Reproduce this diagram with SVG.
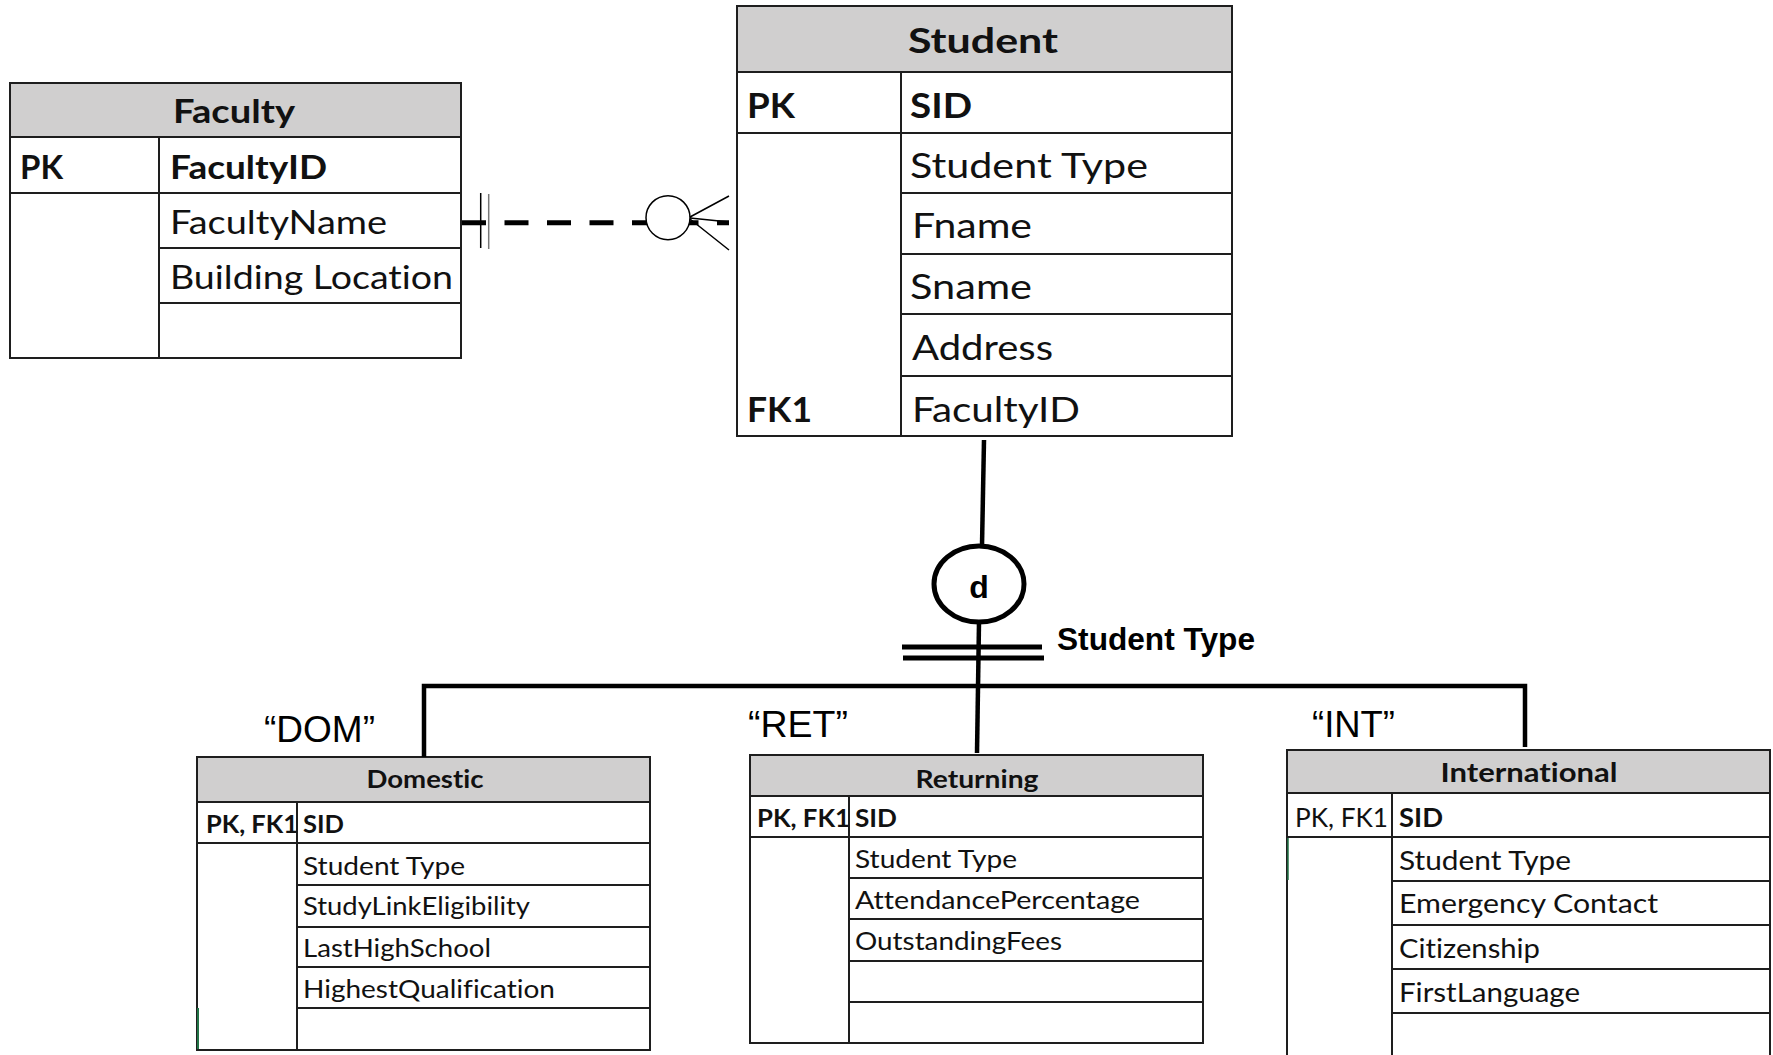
<svg xmlns="http://www.w3.org/2000/svg" width="1773" height="1055" viewBox="0 0 1773 1055">
  <style>
    .frame { fill: none; stroke: #1e1e1e; stroke-width: 2; }
    .head { fill: #d0cfcf; stroke: #1e1e1e; stroke-width: 2; }
    .grid { stroke: #1e1e1e; stroke-width: 2; fill: none; }
    .t { font-family: Lato, "Open Sans", sans-serif; fill: #111; font-variant-ligatures: none; }
    .b { font-weight: bold; }
    .big { font-size: 35px; }
    .mid { font-size: 33px; }
    .sm { font-size: 25px; }
    .smi { font-size: 26.5px; }
    .lbl { font-family: "Liberation Sans", Arial, sans-serif; fill: #000; }
    .rel { stroke: #000; stroke-width: 4.5; fill: none; }
    .thin { stroke: #000; stroke-width: 1.5; fill: none; }
  </style>

  <!-- Faculty table -->
  <g id="faculty">
    <rect class="head" x="10" y="83" width="451" height="54"/>
    <rect class="frame" x="10" y="83" width="451" height="275"/>
    <path class="grid" d="M10 193 H461 M159 248 H461 M159 303 H461 M159 137 V358"/>
    <text class="t b mid" x="234" y="123" text-anchor="middle" textLength="122" lengthAdjust="spacingAndGlyphs">Faculty</text>
    <text class="t b mid" x="20" y="179" textLength="43" lengthAdjust="spacingAndGlyphs">PK</text>
    <text class="t b mid" x="170" y="179" textLength="157" lengthAdjust="spacingAndGlyphs">FacultyID</text>
    <text class="t mid" x="170" y="234" textLength="217" lengthAdjust="spacingAndGlyphs">FacultyName</text>
    <text class="t mid" x="170" y="289" textLength="283" lengthAdjust="spacingAndGlyphs">Building Location</text>
  </g>

  <!-- Student table -->
  <g id="student">
    <rect class="head" x="737" y="6" width="495" height="66"/>
    <rect class="frame" x="737" y="6" width="495" height="430"/>
    <path class="grid" d="M737 133 H1232 M901 193 H1232 M901 254 H1232 M901 314 H1232 M901 376 H1232 M901 72 V436"/>
    <text class="t b big" x="983" y="53" text-anchor="middle" textLength="150" lengthAdjust="spacingAndGlyphs">Student</text>
    <text class="t b big" x="747" y="118" textLength="48" lengthAdjust="spacingAndGlyphs">PK</text>
    <text class="t b big" x="910" y="118" textLength="62" lengthAdjust="spacingAndGlyphs">SID</text>
    <text class="t big" x="910" y="178" textLength="238" lengthAdjust="spacingAndGlyphs">Student Type</text>
    <text class="t big" x="912" y="238" textLength="120" lengthAdjust="spacingAndGlyphs">Fname</text>
    <text class="t big" x="910" y="299" textLength="122" lengthAdjust="spacingAndGlyphs">Sname</text>
    <text class="t big" x="912" y="360" textLength="141" lengthAdjust="spacingAndGlyphs">Address</text>
    <text class="t b big" x="747" y="422" textLength="65" lengthAdjust="spacingAndGlyphs">FK1</text>
    <text class="t big" x="912" y="422" textLength="168" lengthAdjust="spacingAndGlyphs">FacultyID</text>
  </g>

  <!-- Domestic table -->
  <g id="domestic">
    <rect class="head" x="197" y="757" width="453" height="45"/>
    <rect class="frame" x="197" y="757" width="453" height="293"/>
    <path class="grid" d="M197 843 H650 M297 885 H650 M297 927 H650 M297 967 H650 M297 1008 H650 M297 802 V1050"/>
    <path d="M198 1008 V1049" stroke="#217346" stroke-width="2"/>
    <text class="t b sm" x="425" y="788" text-anchor="middle" textLength="117" lengthAdjust="spacingAndGlyphs">Domestic</text>
    <text class="t b sm" x="206" y="833" textLength="92" lengthAdjust="spacingAndGlyphs">PK, FK1</text>
    <text class="t b sm" x="303" y="833" textLength="41" lengthAdjust="spacingAndGlyphs">SID</text>
    <text class="t sm" x="303" y="875" textLength="162" lengthAdjust="spacingAndGlyphs">Student Type</text>
    <text class="t sm" x="303" y="915" textLength="227" lengthAdjust="spacingAndGlyphs">StudyLinkEligibility</text>
    <text class="t sm" x="303" y="957" textLength="188" lengthAdjust="spacingAndGlyphs">LastHighSchool</text>
    <text class="t sm" x="303" y="998" textLength="252" lengthAdjust="spacingAndGlyphs">HighestQualification</text>
  </g>

  <!-- Returning table -->
  <g id="returning">
    <rect class="head" x="750" y="755" width="453" height="41"/>
    <rect class="frame" x="750" y="755" width="453" height="288"/>
    <path class="grid" d="M750 837 H1203 M849 878 H1203 M849 919 H1203 M849 961 H1203 M849 1002 H1203 M849 796 V1043"/>
    <text class="t b sm" x="977" y="788" text-anchor="middle" textLength="123" lengthAdjust="spacingAndGlyphs">Returning</text>
    <text class="t b sm" x="757" y="827" textLength="93" lengthAdjust="spacingAndGlyphs">PK, FK1</text>
    <text class="t b sm" x="855" y="827" textLength="42" lengthAdjust="spacingAndGlyphs">SID</text>
    <text class="t sm" x="855" y="868" textLength="162" lengthAdjust="spacingAndGlyphs">Student Type</text>
    <text class="t sm" x="855" y="909" textLength="285" lengthAdjust="spacingAndGlyphs">AttendancePercentage</text>
    <text class="t sm" x="855" y="950" textLength="207" lengthAdjust="spacingAndGlyphs">OutstandingFees</text>
  </g>

  <!-- International table (runs past the bottom edge) -->
  <g id="international">
    <rect class="head" x="1287" y="750" width="483" height="43"/>
    <path class="grid" d="M1287 750 H1770 M1287 750 V1060 M1770 750 V1060 M1287 837 H1770 M1392 881 H1770 M1392 925 H1770 M1392 969 H1770 M1392 1013 H1770 M1392 793 V1060"/>
    <path d="M1288 838 V880" stroke="#217346" stroke-width="1.5"/>
    <text class="t b smi" x="1529" y="782" text-anchor="middle" textLength="177" lengthAdjust="spacingAndGlyphs">International</text>
    <text class="t smi" x="1295" y="827" textLength="93" lengthAdjust="spacingAndGlyphs">PK, FK1</text>
    <text class="t b smi" x="1399" y="827" textLength="44" lengthAdjust="spacingAndGlyphs">SID</text>
    <text class="t smi" x="1399" y="870" textLength="172" lengthAdjust="spacingAndGlyphs">Student Type</text>
    <text class="t smi" x="1399" y="913" textLength="259" lengthAdjust="spacingAndGlyphs">Emergency Contact</text>
    <text class="t smi" x="1399" y="958" textLength="141" lengthAdjust="spacingAndGlyphs">Citizenship</text>
    <text class="t smi" x="1399" y="1002" textLength="181" lengthAdjust="spacingAndGlyphs">FirstLanguage</text>
  </g>

  <!-- Disjoint specialisation symbol -->
  <g id="disjoint">
    <ellipse cx="979" cy="584" rx="45" ry="38" fill="#fff" stroke="#000" stroke-width="5"/>
    <text class="lbl b" x="979" y="598" font-size="32" text-anchor="middle">d</text>
  </g>

  <!-- Connectors -->
  <g id="connectors">
    <!-- Faculty one-and-only-one to Student zero-or-many, non-identifying -->
    <line x1="462" y1="222.7" x2="729" y2="222.7" stroke="#000" stroke-width="5" stroke-dasharray="24 18.5"/>
    <line x1="480.7" y1="193" x2="480.7" y2="248" stroke="#000" stroke-width="1.5"/>
    <line x1="488.7" y1="194" x2="488.7" y2="249" stroke="#777" stroke-width="1.5"/>
    <circle cx="668" cy="217.7" r="22" fill="#fff" stroke="#000" stroke-width="1.5"/>
    <path class="thin" d="M690 217 L729 196 M690 218 L729 222 M690 219 L729 250"/>

    <!-- Student to specialisation -->
    <path class="rel" d="M984 440 L982 546"/>
    <path class="rel" d="M979 622 L977 753"/>
    <line x1="902" y1="647" x2="1042" y2="647" stroke="#000" stroke-width="5"/>
    <line x1="903" y1="658" x2="1044" y2="658" stroke="#000" stroke-width="5"/>
    <path class="rel" d="M424 757 V686 H1525 V747"/>
  </g>

  <!-- Labels -->
  <g id="labels">
    <text class="lbl b" x="1057" y="650" font-size="32" textLength="198" lengthAdjust="spacingAndGlyphs">Student Type</text>
    <text class="lbl" x="264" y="742" font-size="37" textLength="111" lengthAdjust="spacingAndGlyphs">“DOM”</text>
    <text class="lbl" x="748" y="737" font-size="37" textLength="100" lengthAdjust="spacingAndGlyphs">“RET”</text>
    <text class="lbl" x="1312" y="737" font-size="37" textLength="83" lengthAdjust="spacingAndGlyphs">“INT”</text>
  </g>
</svg>
